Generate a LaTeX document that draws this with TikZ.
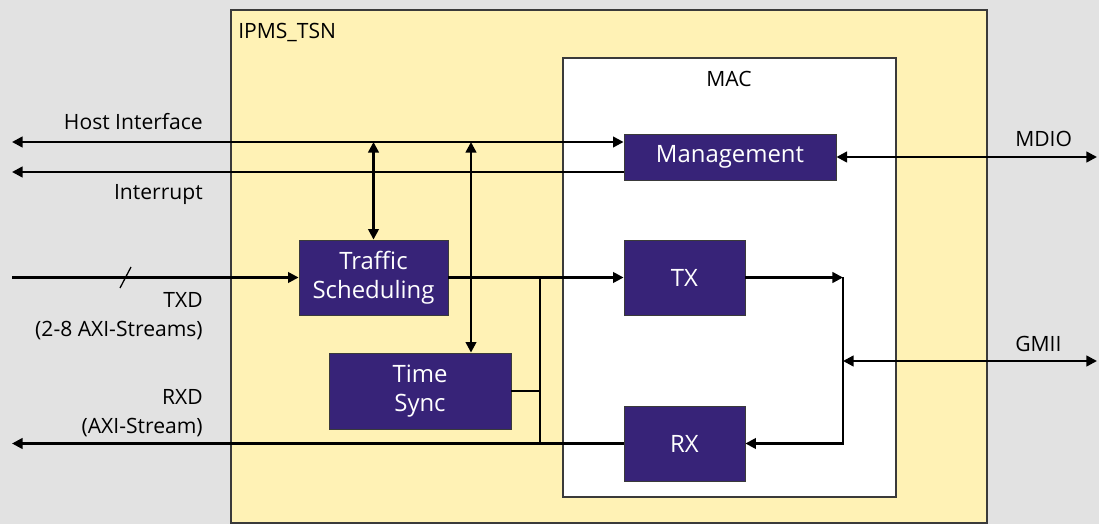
\documentclass[tikz,border=0pt]{standalone}
\usepackage{fontspec}
\setmainfont{Open Sans}
\usetikzlibrary{arrows.meta}
\usetikzlibrary{positioning, calc}
\definecolor{bgGray}{HTML}{E2E2E2}
\definecolor{tsnYellow}{HTML}{FFF2B5}
\definecolor{blockPurple}{HTML}{372378}
\definecolor{edgeGray}{HTML}{3A3A3A}

\begin{document}
\begin{tikzpicture}[x=0.025cm, y=-0.025cm,
    sig/.style={line width=1.7pt, -{Triangle[length=7.5pt,width=7.5pt]}},
    bisig/.style={line width=1.7pt, {Triangle[length=7.5pt,width=7.5pt]}-{Triangle[length=7.5pt,width=7.5pt]}},
    wire/.style={line width=1.7pt},
    block/.style={draw=edgeGray, line width=0.6pt, fill=blockPurple, text=white, align=center,
      font=\fontsize{17}{20.5}\selectfont, inner sep=0pt},
    lbl/.style={font=\fontsize{15}{21}\selectfont, inner sep=0pt}]
      \useasboundingbox (0,0) rectangle (1099,524);
      \fill[bgGray] (0,0) rectangle (1099,524);
      \draw[edgeGray, fill=tsnYellow, line width=0.8pt] (231,10) rectangle (987,523);
      \draw[edgeGray, fill=white, line width=0.8pt] (563,58) rectangle (896,497);
      \node[lbl, anchor=base west] (tsn) at (238,39) {IPMS\_TSN};
      \node[lbl, anchor=base] (mac) at (729,87) {MAC};

      \node[block, minimum width=5.3cm, minimum height=1.15cm] (mgmt) at (730,157) {Management};
      \node[block, minimum width=3.725cm, minimum height=1.875cm] (sched) at (373.5,277.5) {Traffic\\Scheduling};
      \node[block, minimum width=4.55cm, minimum height=1.9cm] (sync) at (420,391) {Time\\Sync};
      \node[block, minimum width=3.025cm, minimum height=1.875cm] (tx) at (684.5,277.5) {TX};
      \node[block, minimum width=3.025cm, minimum height=1.875cm] (rx) at (684.5,443.5) {RX};

      \coordinate (hostL) at (12,142);
      \coordinate (intL) at (12,172);
      \coordinate (txdL) at (12,277.5);
      \coordinate (rxdL) at (12,443.5);
      \coordinate (syncTap) at (471,142);
      \coordinate (bus) at (540,277.5);
      \coordinate (phy) at (843,277.5);
      \coordinate (gmiiR) at (1097,361);

      \draw[bisig] (hostL) -- (hostL -| mgmt.west);
      \draw[sig] (intL -| mgmt.west) -- (intL);
      \draw[bisig] (sched.north |- hostL) -- (sched.north);
      \draw[bisig] (syncTap) -- (syncTap |- sync.north);
      \draw[bisig] (mgmt.east) -- (mgmt.east -| gmiiR);

      \draw[sig] (txdL) -- (sched.west);
      \draw[line width=0.9pt] (120,288) -- (131,267);
      \draw[sig] (sched.east) -- (tx.west);
      \draw[wire] (bus) -- (bus |- rx.west);
      \draw[wire] (sync.east) -- (sync.east -| bus);
      \draw[sig] (rx.west) -- (rxdL);

      \draw[sig] (tx.east) -- (phy);
      \draw[sig] (phy) |- (rx.east);
      \draw[bisig] (gmiiR -| phy) -- (gmiiR);

      \node[lbl, anchor=base east] (hostLbl) at (203,130) {Host Interface};
      \node[lbl, anchor=base east] (intLbl) at (203,200) {Interrupt};
      \node[lbl, anchor=north east, align=right] (txdLbl) at (203,292) {TXD\\(2-8 AXI-Streams)};
      \node[lbl, anchor=north east, align=right] (rxdLbl) at (203,389) {RXD\\(AXI-Stream)};
      \node[lbl, anchor=base west] (mdioLbl) at (1015,147) {MDIO};
      \node[lbl, anchor=base west] (gmiiLbl) at (1015,352) {GMII};
    \end{tikzpicture}
\end{document}
